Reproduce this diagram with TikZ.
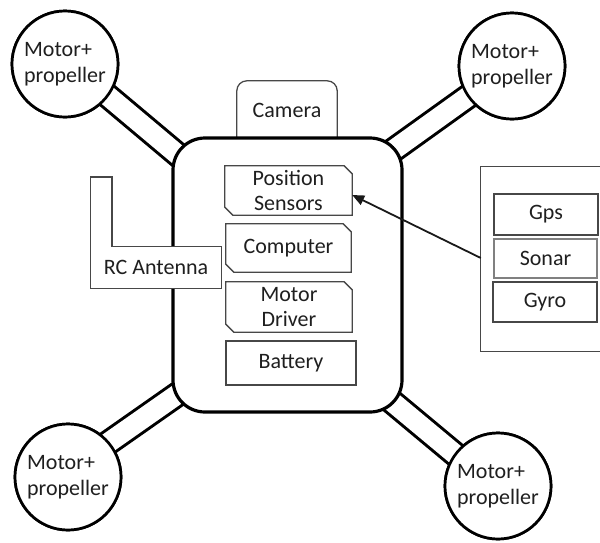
\documentclass[tikz,border=0pt]{standalone}
\usepackage{fontspec}
\setmainfont{Carlito}
\usetikzlibrary{arrows.meta,calc}

\begin{document}
\begin{tikzpicture}[x=1pt,y=-1pt,
  lbl/.style={font=\fontsize{22}{25}\selectfont, text=black!88, align=center, inner sep=0pt},
  thinline/.style={draw=black!72, line width=1.3pt},
  part/.style={lbl, draw=none},
  motor/.style={circle, draw=black, line width=2.7pt, fill=white, minimum size=106pt,
                inner sep=0pt, align=left, font=\fontsize{22}{26}\selectfont, text=black!88},
  arm/.style={draw=black, line width=3pt, double=white, double distance=20pt},
  frame/.style={draw=black, line width=3.2pt, fill=white, rounded corners=32pt},
  feed/.style={draw=black!90, line width=1.8pt, -{Triangle[length=12pt,width=10pt]}}
]
\useasboundingbox (0,0) rectangle (600,542);

% propeller units at the four corners
\node[motor] (m1) at (65,64)  {Motor+\\propeller};
\node[motor] (m2) at (512,66) {Motor+\\propeller};
\node[motor] (m3) at (68,477) {Motor+\\propeller};
\node[motor] (m4) at (498,486) {Motor+\\propeller};

% ends of the arms, hidden inside the frame
\coordinate (a1) at (215,186);
\coordinate (a2) at (360,174);
\coordinate (a3) at (215,368);
\coordinate (a4) at (360,375);

% arms (drawn first so that frame and motors cover their ends)
\draw[arm] ($(m1.center)+(0,-4)$) -- (a1);
\draw[arm] ($(m2.center)+(0,-1)$) -- (a2);
\draw[arm] ($(m3.center)+(0,-6)$) -- (a3);
\draw[arm] ($(m4.center)+(0,4)$)  -- (a4);

% camera tab on top of the frame
\node[part, minimum width=100pt, minimum height=58pt] (cam) at (287,110) {\raisebox{-2pt}{Camera}};
\draw[thinline, rounded corners=10pt] (cam.south west) |- (cam.north east) -- (cam.south east);

% central frame
\node[frame, minimum width=229pt, minimum height=274pt] (body) at (287.5,275) {};

% redraw the motors above the arms
\node[motor] at (m1) {Motor+\\propeller};
\node[motor] at (m2) {Motor+\\propeller};
\node[motor] at (m3) {Motor+\\propeller};
\node[motor] at (m4) {Motor+\\propeller};

% on-board parts
\node[part, minimum width=127pt, minimum height=49pt] (pos) at (288.5,190.5) {Position\\Sensors};
\draw[thinline] (pos.south east) -- ($(pos.north east)+(0,8)$) -- ($(pos.north east)+(-8,0)$)
  -- (pos.north west) -- ($(pos.south west)+(0,-8)$) -- ($(pos.south west)+(8,0)$) -- cycle;

\node[part, minimum width=125pt, minimum height=48pt] (cpu) at (288.5,248) {Computer};
\draw[thinline] (cpu.south east) -- ($(cpu.north east)+(0,8)$) -- ($(cpu.north east)+(-8,0)$)
  -- (cpu.north west) -- ($(cpu.south west)+(0,-8)$) -- ($(cpu.south west)+(8,0)$) -- cycle;

\node[part, minimum width=126pt, minimum height=50pt] (drv) at (289,307) {Motor\\Driver};
\draw[thinline] (drv.south east) -- ($(drv.north east)+(0,8)$) -- ($(drv.north east)+(-8,0)$)
  -- (drv.north west) -- ($(drv.south west)+(0,-8)$) -- ($(drv.south west)+(8,0)$) -- cycle;

\node[part, thinline, minimum width=130pt, minimum height=44pt] (bat) at (291,363) {Battery};

% RC antenna, drawn over the left side of the frame
\node[part, minimum width=130pt, minimum height=41pt] (rc) at (156,267.5) {};
\coordinate (rctop) at (112,177);
\filldraw[thinline, fill=white] (rc.south west) -- (rc.south east) -- (rc.north east)
  -- (rctop |- rc.north) -- (rctop) -- (rc.north west |- rctop) -- cycle;
\node[lbl] at (rc) {RC Antenna};

% external sensor group
\node[part, minimum width=119pt, minimum height=184pt] (sens) at (540.5,259) {};
\draw[thinline] (sens.north east) -- (sens.north west) -- (sens.south west) -- (sens.south east);
\node[part, thinline, minimum width=104pt, minimum height=41pt] (gps) at (546,214.5) {Gps};
\node[part, thinline, draw=black!50, minimum width=103pt, minimum height=39pt] (sonar) at (545.5,258.5) {Sonar};
\node[part, thinline, minimum width=104pt, minimum height=40pt] (gyro) at (545,302) {Gyro};

% data path from the sensor group to the position sensors
\draw[feed] ($(sens.west)+(0,-1)$) -- ($(pos.east)+(0,4.5)$);
\end{tikzpicture}
\end{document}
